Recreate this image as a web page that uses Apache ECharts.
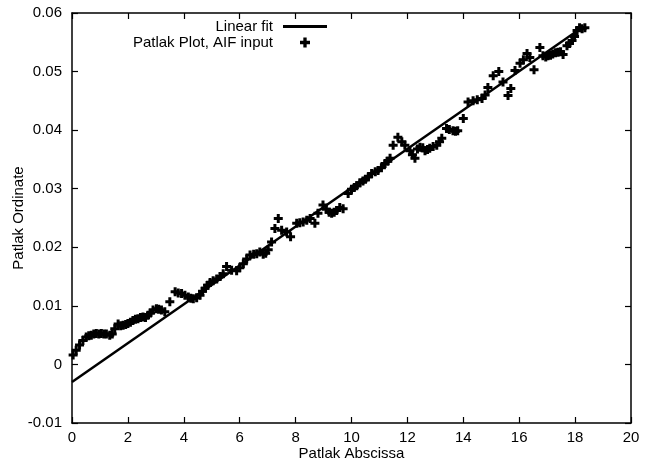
<!DOCTYPE html>
<html>
<head>
<meta charset="utf-8">
<script src="https://cdn.jsdelivr.net/npm/echarts@6/dist/echarts.min.js"></script>
<style>
  html, body { margin: 0; padding: 0; background: #fff; }
  #chart { width: 658px; height: 466px; }
</style>
</head>
<body>
<div id="chart"></div>
<script>
// Patlak plot points
const patlakX = [0.04, 0.15, 0.27, 0.39, 0.51, 0.6, 0.69, 0.78, 0.87, 0.96, 1.05, 1.14, 1.23, 1.35, 1.44, 1.53, 1.65, 1.74, 1.83, 1.92,
  2.0, 2.09, 2.18, 2.27, 2.36, 2.45, 2.54, 2.63, 2.72, 2.81, 2.9, 3.02, 3.1, 3.2, 3.32, 3.5, 3.69, 3.8, 3.92, 4.04,
  4.16, 4.25, 4.34, 4.46, 4.58, 4.67, 4.76, 4.85, 4.94, 5.05, 5.18, 5.3, 5.41, 5.53, 5.71, 5.89, 6.0, 6.13, 6.25, 6.37,
  6.5, 6.61, 6.72, 6.84, 6.93, 7.02, 7.14, 7.26, 7.38, 7.5, 7.68, 7.82, 8.04, 8.15, 8.27, 8.4, 8.52, 8.69, 8.8, 8.98,
  9.1, 9.2, 9.29, 9.38, 9.47, 9.58, 9.7, 9.88, 10.0, 10.1, 10.19, 10.3, 10.41, 10.5, 10.6, 10.72, 10.85, 10.95, 11.07, 11.2,
  11.3, 11.38, 11.49, 11.66, 11.8, 11.91, 12.09, 12.18, 12.27, 12.36, 12.45, 12.55, 12.63, 12.72, 12.8, 12.92, 13.05, 13.15, 13.23, 13.4,
  13.5, 13.63, 13.72, 13.8, 14.0, 14.17, 14.35, 14.5, 14.67, 14.78, 14.88, 15.07, 15.27, 15.42, 15.6, 15.7, 15.85, 16.03, 16.15, 16.28,
  16.38, 16.53, 16.74, 16.85, 16.95, 17.03, 17.12, 17.2, 17.3, 17.39, 17.48, 17.57, 17.71, 17.8, 17.89, 17.98, 18.07, 18.16, 18.25, 18.35]
const patlakY = [0.0016, 0.0024, 0.0033, 0.0041, 0.0047, 0.0049, 0.0050, 0.0052, 0.0053, 0.0052, 0.0053, 0.0052, 0.0052, 0.0050, 0.0052, 0.0061, 0.0069, 0.0066, 0.0067, 0.0068,
  0.0070, 0.0072, 0.0075, 0.0077, 0.0078, 0.0080, 0.0081, 0.0080, 0.0084, 0.0088, 0.0093, 0.0095, 0.0094, 0.0093, 0.0090, 0.0107, 0.0124, 0.0122, 0.0121, 0.0118,
  0.0115, 0.0113, 0.0112, 0.0114, 0.0118, 0.0125, 0.0130, 0.0135, 0.0140, 0.0143, 0.0146, 0.0150, 0.0155, 0.0167, 0.0161, 0.0160, 0.0165, 0.0172, 0.0180, 0.0187,
  0.0188, 0.0189, 0.0192, 0.0188, 0.0190, 0.0196, 0.0209, 0.0232, 0.0249, 0.0229, 0.0226, 0.0218, 0.0241, 0.0242, 0.0243, 0.0246, 0.0249, 0.0241, 0.0258, 0.0272,
  0.0265, 0.0260, 0.0258, 0.0260, 0.0263, 0.0268, 0.0266, 0.0292, 0.0299, 0.0302, 0.0305, 0.0310, 0.0313, 0.0316, 0.0320, 0.0326, 0.0329, 0.0331, 0.0336, 0.0343,
  0.0347, 0.0352, 0.0374, 0.0388, 0.0380, 0.0374, 0.0365, 0.0358, 0.0352, 0.0368, 0.0371, 0.0370, 0.0365, 0.0367, 0.0369, 0.0372, 0.0374, 0.0380, 0.0386, 0.0403,
  0.0401, 0.0399, 0.0398, 0.0399, 0.0420, 0.0448, 0.0450, 0.0452, 0.0454, 0.0460, 0.0473, 0.0493, 0.0500, 0.0482, 0.0459, 0.0471, 0.0502, 0.0514, 0.0520, 0.0531,
  0.0524, 0.0503, 0.0541, 0.0527, 0.0525, 0.0527, 0.0528, 0.0530, 0.0532, 0.0533, 0.0534, 0.0529, 0.0544, 0.0548, 0.0553, 0.0560, 0.0570, 0.0575, 0.0573, 0.0575]

// linear fit end points
const fitX = [0, 18.3]
const fitY = [-0.003, 0.0577]

const xTicks = [0, 20, 2]      // min, max, step
const yTicks = [-0.01, 0.06, 0.01]

const fontFamily = '"Liberation Sans", Arial, Helvetica, sans-serif'
const fontSize = 15
const plusPath = 'path://M3,0H6V3H9V6H6V9H3V6H0V3H3Z'

const chart = echarts.init(document.getElementById('chart'))

const baseAxis = {
    axisLine: { show: true, onZero: false, lineStyle: { color: '#000', width: 1.5 } },
    axisTick: { show: true, inside: true, length: 6, lineStyle: { color: '#000', width: 1.2 } },
    splitLine: { show: false }
}

const option = {
    animation: false,
    backgroundColor: '#fff',
    grid: { left: 72, right: 27, top: 13, bottom: 43, outerBoundsMode: 'none', containLabel: false },
    legend: [{
        data: ['Linear fit'],
        right: 331,
        top: 19,
        padding: 0,
        align: 'right',
        icon: 'rect',
        itemWidth: 44,
        itemHeight: 3,
        textStyle: { fontFamily, fontSize, color: '#000', padding: [0, 5, 0, 0] }
    }, {
        data: ['Patlak Plot, AIF input'],
        right: 348,
        top: 35,
        padding: 0,
        align: 'right',
        icon: plusPath,
        itemWidth: 10,
        itemHeight: 10,
        itemStyle: { opacity: 1 },
        textStyle: { fontFamily, fontSize, color: '#000', padding: [0, 22, 0, 0] }
    }],
    xAxis: [{
        ...baseAxis,
        type: 'value',
        min: xTicks[0],
        max: xTicks[1],
        interval: xTicks[2],
        name: 'Patlak Abscissa',
        nameLocation: 'middle',
        nameGap: 23,
        nameMoveOverlap: false,
        nameTextStyle: { fontFamily, fontSize, color: '#000' },
        axisLabel: { fontFamily, fontSize, color: '#000', margin: 7 }
    }, {
        ...baseAxis,
        type: 'value',
        position: 'top',
        min: xTicks[0],
        max: xTicks[1],
        interval: xTicks[2],
        axisLabel: { show: false }
    }],
    yAxis: [{
        ...baseAxis,
        type: 'value',
        min: yTicks[0],
        max: yTicks[1],
        interval: yTicks[2],
        name: 'Patlak Ordinate',
        nameLocation: 'middle',
        nameGap: 46,
        nameMoveOverlap: false,
        nameTextStyle: { fontFamily, fontSize, color: '#000' },
        axisLabel: {
            fontFamily, fontSize, color: '#000', margin: 10,
            formatter: v => String(Math.round(v * 100) / 100)
        }
    }, {
        ...baseAxis,
        type: 'value',
        position: 'right',
        min: yTicks[0],
        max: yTicks[1],
        interval: yTicks[2],
        axisLabel: { show: false }
    }],
    series: [{
        name: 'Linear fit',
        type: 'line',
        data: fitX.map((x, i) => [x, fitY[i]]),
        showSymbol: false,
        symbol: 'none',
        lineStyle: { color: '#000', width: 2.5 },
        itemStyle: { color: '#000' }
    }, {
        name: 'Patlak Plot, AIF input',
        type: 'scatter',
        data: patlakX.map((x, i) => [x, patlakY[i]]),
        symbol: plusPath,
        symbolSize: 9,
        itemStyle: { color: '#000', opacity: 1 }
    }]
}

chart.setOption(option)
</script>
</body>
</html>
